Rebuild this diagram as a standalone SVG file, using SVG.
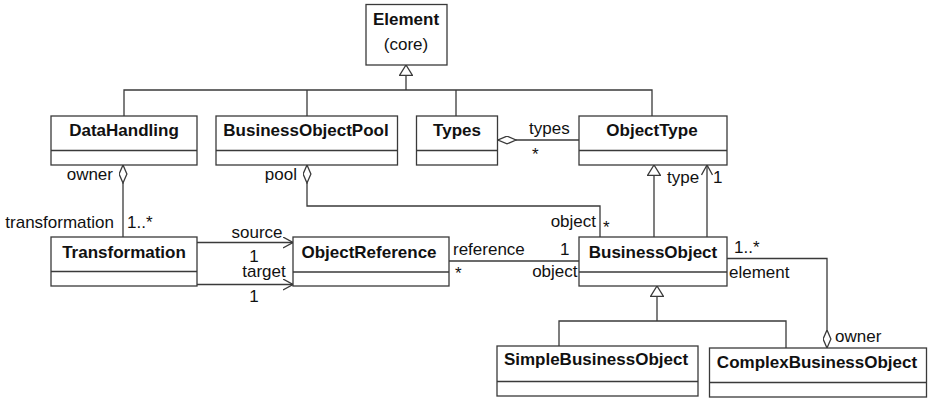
<svg xmlns="http://www.w3.org/2000/svg" width="929" height="400" viewBox="0 0 929 400">
<style>
.box{fill:#fff;stroke:#3a3a3a;stroke-width:1.3}
.ln{fill:none;stroke:#3a3a3a;stroke-width:1.3}
.t{font-family:"Liberation Sans",Arial,sans-serif;font-size:17px;fill:#111}
.b{font-weight:bold;text-anchor:middle}
.e{text-anchor:end}
.m{text-anchor:middle}
</style>
<defs>
<marker id="gen" markerUnits="userSpaceOnUse" viewBox="0 0 11 14" refX="11" refY="7" markerWidth="11" markerHeight="14" orient="auto">
<path d="M11,7 L0.5,0.5 L0.5,13.5 z" fill="#fff" stroke="#3a3a3a" stroke-width="1.3"/>
</marker>
<marker id="dia" markerUnits="userSpaceOnUse" viewBox="0 0 19 9" refX="0.5" refY="4.5" markerWidth="19" markerHeight="9" orient="auto">
<path d="M0.5,4.5 L9.5,0.6 L18.5,4.5 L9.5,8.4 z" fill="#fff" stroke="#3a3a3a" stroke-width="1.3"/>
</marker>
<marker id="arr" markerUnits="userSpaceOnUse" viewBox="0 0 11 12" refX="10.5" refY="6" markerWidth="11" markerHeight="12" orient="auto">
<path d="M0.5,0.5 L10.5,6 L0.5,11.5" fill="none" stroke="#3a3a3a" stroke-width="1.3"/>
</marker>
</defs>
<rect width="929" height="400" fill="#fff"/>
<g id="connectors">
<path class="ln" d="M124,116 V90 H652 V116 M307,90 V116 M456,90 V116"/>
<path class="ln" d="M406,90 V65" marker-end="url(#gen)"/>
<path class="ln" d="M498,140 H579" marker-start="url(#dia)"/>
<path class="ln" d="M123,165 V237" marker-start="url(#dia)"/>
<path class="ln" d="M307,165 V206 H600 V237" marker-start="url(#dia)"/>
<path class="ln" d="M654,237 V165" marker-end="url(#gen)"/>
<path class="ln" d="M707,237 V165" marker-end="url(#arr)"/>
<path class="ln" d="M197,242.5 H293" marker-end="url(#arr)"/>
<path class="ln" d="M197,284.5 H293" marker-end="url(#arr)"/>
<path class="ln" d="M449,261 H579"/>
<path class="ln" d="M827,348 V258.5 H727" marker-start="url(#dia)"/>
<path class="ln" d="M559,346 V321 H786 V348"/>
<path class="ln" d="M657,321 V286" marker-end="url(#gen)"/>
<text class="t e" x="113" y="180">owner</text>
<text class="t e" x="297" y="180">pool</text>
<text class="t" x="529" y="134">types</text>
<text class="t" x="532" y="160">*</text>
<text class="t" x="667" y="182.5">type</text>
<text class="t" x="713" y="182.5">1</text>
<text class="t e" x="596" y="226.5">object</text>
<text class="t" x="603" y="233">*</text>
<text class="t e" x="114" y="228">transformation</text>
<text class="t" x="127" y="228">1..*</text>
<text class="t m" x="257" y="238">source</text>
<text class="t m" x="254" y="262">1</text>
<text class="t m" x="264" y="277">target</text>
<text class="t m" x="254" y="302">1</text>
<text class="t" x="453" y="255">reference</text>
<text class="t" x="560" y="255">1</text>
<text class="t" x="455" y="279">*</text>
<text class="t e" x="577.5" y="277">object</text>
<text class="t" x="734" y="253">1..*</text>
<text class="t" x="729" y="277.5">element</text>
<text class="t" x="835" y="342">owner</text>
</g>
<g id="Element">
<rect class="box" x="366" y="4.5" width="81" height="60.5"/>
<text class="t b" x="406" y="24.5">Element</text>
<text class="t m" x="406" y="50">(core)</text>
</g>
<g id="DataHandling">
<rect class="box" x="51" y="116" width="146" height="49"/>
<line class="ln" x1="51" y1="150.5" x2="197" y2="150.5"/>
<text class="t b" x="124" y="136">DataHandling</text>
</g>
<g id="BusinessObjectPool">
<rect class="box" x="216" y="116" width="181.5" height="49"/>
<line class="ln" x1="216" y1="150.5" x2="397.5" y2="150.5"/>
<text class="t b" x="306" y="136">BusinessObjectPool</text>
</g>
<g id="Types">
<rect class="box" x="416.5" y="116" width="81" height="49"/>
<line class="ln" x1="416.5" y1="150.5" x2="497.5" y2="150.5"/>
<text class="t b" x="457" y="136">Types</text>
</g>
<g id="ObjectType">
<rect class="box" x="579" y="116" width="148" height="49"/>
<line class="ln" x1="579" y1="150.5" x2="727" y2="150.5"/>
<text class="t b" x="652" y="136">ObjectType</text>
</g>
<g id="Transformation">
<rect class="box" x="51" y="237" width="146" height="49"/>
<line class="ln" x1="51" y1="271.5" x2="197" y2="271.5"/>
<text class="t b" x="124" y="258">Transformation</text>
</g>
<g id="ObjectReference">
<rect class="box" x="293" y="237" width="156" height="49"/>
<line class="ln" x1="293" y1="272" x2="449" y2="272"/>
<text class="t b" x="369" y="258">ObjectReference</text>
</g>
<g id="BusinessObject">
<rect class="box" x="579" y="237" width="148" height="49"/>
<line class="ln" x1="579" y1="272" x2="727" y2="272"/>
<text class="t b" x="653" y="258">BusinessObject</text>
</g>
<g id="SimpleBusinessObject">
<rect class="box" x="497" y="346" width="201" height="50"/>
<line class="ln" x1="497" y1="381.5" x2="698" y2="381.5"/>
<text class="t b" x="596" y="365">SimpleBusinessObject</text>
</g>
<g id="ComplexBusinessObject">
<rect class="box" x="709.5" y="348" width="217" height="49"/>
<line class="ln" x1="709.5" y1="382.5" x2="926.5" y2="382.5"/>
<text class="t b" x="817" y="368">ComplexBusinessObject</text>
</g>
</svg>
